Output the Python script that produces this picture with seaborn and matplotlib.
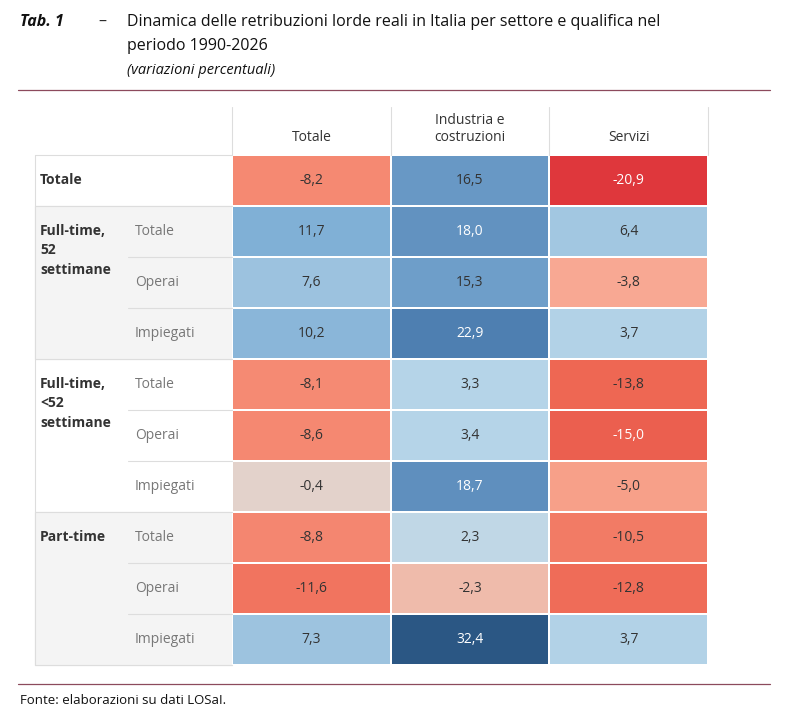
import numpy as np
import pandas as pd
import matplotlib
matplotlib.use("Agg")
import matplotlib.pyplot as plt
from matplotlib.colors import LinearSegmentedColormap, Normalize
from matplotlib.patches import Rectangle
import seaborn as sns

sns.set_style("white")
plt.rcParams['font.family'] = ['Open Sans', 'DejaVu Sans']

# --- dati ---
columns = ["Totale", "Industria e\ncostruzioni", "Servizi"]
groups = ["Totale", "Full-time,\n52\nsettimane", "Full-time,\n<52\nsettimane", "Part-time"]
sub_labels = ["", "Totale", "Operai", "Impiegati", "Totale", "Operai", "Impiegati",
              "Totale", "Operai", "Impiegati"]
col_totale = [-8.2, 11.7, 7.6, 10.2, -8.1, -8.6, -0.4, -8.8, -11.6, 7.3]
col_industria = [16.5, 18.0, 15.3, 22.9, 3.3, 3.4, 18.7, 2.3, -2.3, 32.4]
col_servizi = [-20.9, 6.4, -3.8, 3.7, -13.8, -15.0, -5.0, -10.5, -12.8, 3.7]

df = pd.DataFrame({"Totale": col_totale, "Industria": col_industria, "Servizi": col_servizi})

# colormap rosso-blu in stile Tableau
vmin, vmax = -20.9, 32.4
nodes = [(-20.9, "#df373c"), (-13.8, "#ee6753"), (-8.2, "#f58a73"), (-3.8, "#f8a892"),
         (-0.4, "#e3d2cb"), (0.0, "#d8dde2"), (3.3, "#b5d4e8"), (6.4, "#a3c7e1"),
         (11.7, "#80b0d6"), (16.5, "#6898c5"), (22.9, "#4e7fb1"), (32.4, "#2b5784")]
cmap = LinearSegmentedColormap.from_list(
    "rb", [((v - vmin) / (vmax - vmin), c) for v, c in nodes])

W, H = 795, 726
fig = plt.figure(figsize=(W / 100, H / 100), dpi=100)
x0, x1, y0, y1 = 232, 708, 155, 665
ax = fig.add_axes([x0 / W, 1 - y1 / H, (x1 - x0) / W, (y1 - y0) / H])

annot = df.map(lambda v: f"{v:.1f}".replace(".", ","))
sns.heatmap(df, ax=ax, cmap=cmap, vmin=vmin, vmax=vmax, cbar=False,
            annot=annot, fmt="", linewidths=1.2, linecolor="white",
            annot_kws={"fontsize": 10, "color": "#333333"})
norm = Normalize(vmin, vmax)
for t, v in zip(ax.texts, df.values.flatten()):
    r, g, b, _ = cmap(norm(v))
    if 0.299 * r + 0.587 * g + 0.114 * b < 0.55:
        t.set_color("white")
ax.set_xticks([]); ax.set_yticks([])
for s in ax.spines.values():
    s.set_visible(False)

cw = x1 - x0  # not used per column; data units: 1 col = 159 px
def px(x):
    return (x - x0) / ((x1 - x0) / 3)

# sfondi grigi a sinistra
left = px(35)
for r0, r1 in [(1, 4), (7, 10)]:
    ax.add_patch(Rectangle((left, r0), -left, r1 - r0, color="#f4f4f4", clip_on=False, zorder=0))
# linee orizzontali a sinistra
for r in range(0, 11):
    xs = left if r in (0, 1, 4, 7, 10) else px(128)
    ax.plot([xs, 0], [r, r], color="#dddddd", lw=0.8, clip_on=False)
ax.plot([left, left], [0, 10], color="#dddddd", lw=0.8, clip_on=False)
# intestazioni
hdr_top = -(y0 - 107) / ((y1 - y0) / 10)
for c in range(4):
    ax.plot([c, c], [hdr_top, 0], color="#dddddd", lw=0.8, clip_on=False)
for c, name in enumerate(columns):
    ax.text(c + 0.5, -0.2, name, ha="center", va="bottom", fontsize=10, color="#333333")

# etichette di riga
gx = px(40)
for g, r in zip(groups, [0, 1, 4, 7]):
    ax.text(gx, r + 0.35, g, ha="left", va="top", fontsize=10, fontweight="bold",
            color="#333333", linespacing=1.5)
sx = px(135)
for r, s in enumerate(sub_labels):
    if s:
        ax.text(sx, r + 0.5, s, ha="left", va="center", fontsize=10, color="#777777")

# titolo
fig.text(20 / W, 1 - 22 / H, "Tab. 1", fontsize=11.5, fontweight="bold", style="italic",
         va="center", ha="left", color="#111111")
fig.text(98 / W, 1 - 22 / H, "–", fontsize=11.5, va="center", ha="left")
fig.text(127 / W, 1 - 22 / H, "Dinamica delle retribuzioni lorde reali in Italia per settore e qualifica nel",
         fontsize=11.5, va="center", ha="left", color="#111111")
fig.text(127 / W, 1 - 46 / H, "periodo 1990-2026", fontsize=11.5, va="center", ha="left", color="#111111")
fig.text(127 / W, 1 - 70 / H, "(variazioni percentuali)", fontsize=10.5, style="italic",
         va="center", ha="left", color="#111111")
fig.add_artist(plt.Line2D([18 / W, 770 / W], [1 - 90 / H, 1 - 90 / H], color="#8c4a5c", lw=0.9))
fig.add_artist(plt.Line2D([18 / W, 770 / W], [1 - 684 / H, 1 - 684 / H], color="#8c4a5c", lw=0.9))
fig.text(20 / W, 1 - 700 / H, "Fonte: elaborazioni su dati LOSaI.", fontsize=9.5,
         va="center", ha="left", color="#111111")

fig.savefig("out.png", dpi=100)
